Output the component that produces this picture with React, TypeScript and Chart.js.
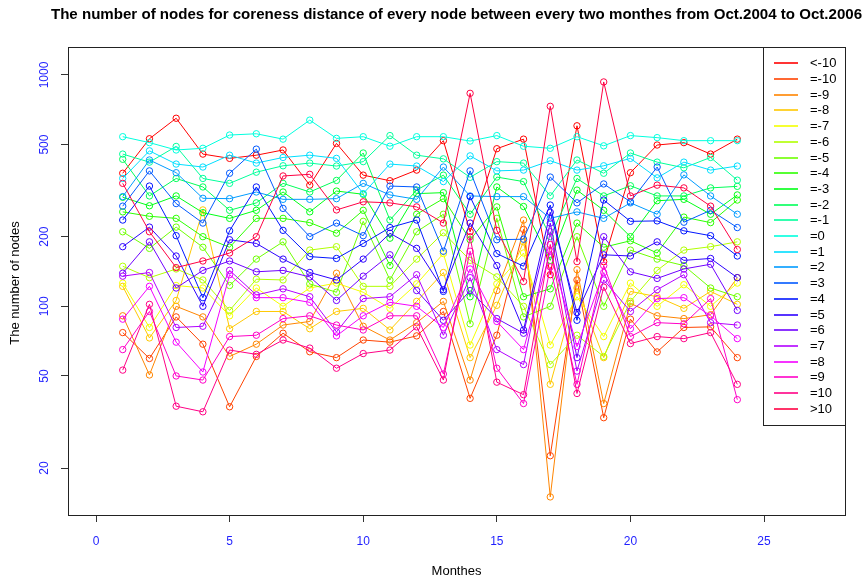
import React, { useEffect, useRef } from "react";
import { Chart, registerables } from "chart.js";

Chart.register(...registerables);

const FONT = '"Liberation Sans", Arial, Helvetica, sans-serif';

const chartTitle =
  "The number of nodes for coreness distance of every node between every two monthes from Oct.2004 to Oct.2006";
const xAxisTitle = "Monthes";
const yAxisTitle = "The number of nodes";

const months = [1, 2, 3, 4, 5, 6, 7, 8, 9, 10, 11, 12, 13, 14, 15, 16, 17, 18, 19, 20, 21, 22, 23, 24];
const xTicks = [0, 5, 10, 15, 20, 25];
const yTicks = [20, 50, 100, 200, 500, 1000];

const seriesLabels = [
  "<-10", "=-10", "=-9", "=-8", "=-7", "=-6", "=-5", "=-4", "=-3", "=-2", "=-1",
  "=0", "=1", "=2", "=3", "=4", "=5", "=6", "=7", "=8", "=9", "=10", ">10",
];

const nodesBelowMinus10 = [376, 530, 650, 455, 436, 450, 474, 334, 506, 369, 349, 388, 520, 210, 480, 528, 137, 603, 156, 378, 498, 510, 455, 528];
const nodesMinus10 = [77, 59.5, 90, 68.6, 36.8, 60.7, 76.5, 63.6, 60, 71.5, 70, 74.5, 95, 40, 75, 215, 22.6, 130, 33, 88, 63.5, 81, 81.5, 60];
const nodesMinus9 = [91, 50.5, 100, 90, 60.7, 68.6, 83, 86, 139, 82, 71.5, 85, 105, 48, 117, 236, 15, 144, 38, 103, 91, 88.5, 92, 133];
const nodesMinus8 = [122, 73, 106, 261, 80, 95, 95, 80, 95, 98, 79, 105, 140, 60, 101, 190, 46, 120, 60, 116, 110, 98, 116, 102];
const nodesMinus7 = [126, 81, 123, 120, 91, 120, 100, 120, 126, 115, 98, 125, 169, 68, 125, 170, 68, 110, 74, 126, 100, 124, 100, 126];
const nodesMinus6 = [149, 133, 145, 130, 96, 131, 130, 175, 181, 122, 122, 160, 208, 158, 134, 100, 56, 75, 60.7, 105, 143, 175, 181, 190];
const nodesMinus5 = [210, 178, 220, 180, 123, 160, 190, 125, 115, 233, 130, 210, 250, 84, 240, 90, 100, 200, 100, 175, 160, 150, 120, 110];
const nodesMinus4 = [256, 245, 240, 200, 180, 240, 240, 230, 207, 260, 150, 250, 292, 194, 269, 110, 119, 229, 180, 192, 170, 243, 230, 288];
const nodesMinus3 = [296, 272, 300, 254, 240, 260, 312, 256, 315, 305, 197, 307, 310, 110, 328, 270, 158, 318, 260, 200, 286, 290, 250, 303];
const nodesMinus2 = [432, 300, 357, 328, 260, 280, 340, 312, 350, 460, 236, 318, 369, 250, 362, 346, 200, 357, 300, 332, 300, 300, 325, 330];
const nodesMinus1 = [455, 420, 491, 357, 340, 380, 405, 416, 404, 422, 547, 450, 434, 361, 422, 416, 300, 429, 376, 460, 420, 397, 440, 351];
const nodesZero = [541, 510, 474, 482, 550, 557, 528, 638, 532, 541, 492, 541, 541, 518, 547, 492, 482, 541, 494, 547, 536, 520, 520, 520];
const nodesPlus1 = [357, 470, 412, 400, 450, 416, 440, 450, 436, 307, 412, 404, 346, 447, 385, 388, 426, 388, 405, 436, 359, 420, 388, 404];
const nodesPlus2 = [298, 429, 378, 293, 292, 312, 290, 290, 292, 340, 303, 290, 400, 300, 298, 298, 240, 256, 240, 280, 250, 370, 300, 250];
const nodesPlus3 = [271, 385, 278, 229, 376, 478, 265, 200, 229, 202, 331, 328, 173, 385, 194, 195, 362, 280, 338, 283, 400, 231, 260, 219];
const nodesPlus4 = [236, 331, 202, 109, 212, 328, 213, 164, 161, 187, 219, 236, 116, 298, 169, 149, 274, 87, 288, 233, 234, 212, 202, 165];
const nodesPlus5 = [181, 220, 165, 100, 194, 187, 160, 140, 130, 160, 207, 178, 118, 229, 150, 79, 255, 94, 167, 165, 190, 158, 161, 133];
const nodesPlus6 = [139, 190, 120, 143, 157, 141, 143, 134, 106, 135, 167, 117, 87, 117, 88.5, 76.5, 229, 60, 200, 141, 132, 145, 152, 96];
const nodesPlus7 = [135, 140, 81, 82, 143, 112, 119, 110, 77.5, 108, 110, 137, 75, 133, 65, 56, 210, 52.5, 130, 95, 118, 137, 85, 83];
const nodesPlus8 = [88, 122, 70, 52, 137, 109, 109, 104, 74.5, 91, 104, 100, 81, 145, 86, 65, 173, 67, 140, 80, 108, 109, 91, 72.5];
const nodesPlus9 = [65, 95, 50, 48, 74, 75, 88.5, 91, 83, 79, 91, 91, 51, 173, 54, 38, 148, 46, 150, 74, 85, 84, 108, 39.5];
const nodesPlus10 = [53, 102, 37, 35, 64.7, 62, 71.5, 66, 54, 62.5, 64.7, 81.5, 48, 200, 47, 41.5, 185, 42, 121, 69, 74, 72.5, 77, 46];
const nodesAbove10 = [340, 210, 147, 157, 170, 200, 366, 372, 261, 283, 280, 269, 229, 833, 213, 128, 732, 156, 933, 300, 334, 325, 271, 176];

const allSeries = [
  nodesBelowMinus10, nodesMinus10, nodesMinus9, nodesMinus8, nodesMinus7, nodesMinus6,
  nodesMinus5, nodesMinus4, nodesMinus3, nodesMinus2, nodesMinus1, nodesZero,
  nodesPlus1, nodesPlus2, nodesPlus3, nodesPlus4, nodesPlus5, nodesPlus6,
  nodesPlus7, nodesPlus8, nodesPlus9, nodesPlus10, nodesAbove10,
];

// R's rainbow(n): hue i/n, full saturation and value
function rainbow(n: number): string[] {
  const out: string[] = [];
  for (let i = 0; i < n; i++) {
    const h = (i / n) * 6;
    const k = Math.floor(h);
    const f = h - k;
    const q = 1 - f;
    let r = 0, g = 0, b = 0;
    switch (k % 6) {
      case 0: r = 1; g = f; b = 0; break;
      case 1: r = q; g = 1; b = 0; break;
      case 2: r = 0; g = 1; b = f; break;
      case 3: r = 0; g = q; b = 1; break;
      case 4: r = f; g = 0; b = 1; break;
      default: r = 1; g = 0; b = q; break;
    }
    const hx = (v: number) => Math.round(v * 255).toString(16).padStart(2, "0");
    out.push("#" + hx(r) + hx(g) + hx(b));
  }
  return out;
}

const decorPlugin = {
  id: "decor",
  afterDraw(chart: any) {
    const { ctx, chartArea } = chart;
    const { left, right, top, bottom } = chartArea;
    ctx.save();
    // plot box
    ctx.strokeStyle = "#222";
    ctx.lineWidth = 1;
    ctx.strokeRect(Math.round(left) + 0.5, Math.round(top) + 0.5, Math.round(right - left), Math.round(bottom - top));

    // title
    const cx = (left + right) / 2;
    let size = 14;
    ctx.font = `bold ${size}px ${FONT}`;
    const w = ctx.measureText(chartTitle).width;
    size = size * (812 / w);
    ctx.font = `bold ${size.toFixed(2)}px ${FONT}`;
    ctx.fillStyle = "#000";
    ctx.textAlign = "center";
    ctx.textBaseline = "middle";
    ctx.fillText(chartTitle, cx, 15);

    // axis titles
    ctx.font = `13px ${FONT}`;
    ctx.fillText(xAxisTitle, cx, 571);
    ctx.save();
    ctx.translate(15, (top + bottom) / 2 + 2);
    ctx.rotate(-Math.PI / 2);
    ctx.fillText(yAxisTitle, 0, 0);
    ctx.restore();

    // legend
    const lw = 82, lh = 378;
    const lx = right - lw;
    const ly = top;
    ctx.fillStyle = "#fff";
    ctx.fillRect(lx, ly, lw, lh);
    ctx.strokeStyle = "#222";
    ctx.strokeRect(Math.round(lx) + 0.5, Math.round(ly) + 0.5, lw, lh);
    ctx.font = `13px ${FONT}`;
    ctx.textAlign = "left";
    ctx.textBaseline = "middle";
    const step = (lh - 32.5) / (chart.data.datasets.length - 1);
    chart.data.datasets.forEach((ds: any, i: number) => {
      const y = Math.round(ly + 16.3 + i * step);
      ctx.strokeStyle = ds.borderColor;
      ctx.lineWidth = 1.6;
      ctx.beginPath();
      ctx.moveTo(lx + 11, y);
      ctx.lineTo(lx + 35, y);
      ctx.stroke();
      ctx.fillStyle = "#000";
      ctx.fillText(ds.label, lx + 47, y + 0.5);
    });
    ctx.restore();
  },
};

export default function App() {
  const ref = useRef<HTMLCanvasElement | null>(null);

  useEffect(() => {
    if (!ref.current) return;
    const colors = rainbow(allSeries.length);
    const datasets = allSeries.map((vals, i) => ({
      label: seriesLabels[i],
      data: months.map((m, j) => ({ x: m, y: vals[j] })),
      borderColor: colors[i],
      backgroundColor: "rgba(0,0,0,0)",
      pointBorderColor: colors[i],
      pointBackgroundColor: "rgba(0,0,0,0)",
      pointRadius: 3.2,
      pointBorderWidth: 1,
      borderWidth: 1,
      tension: 0,
      fill: false,
      order: allSeries.length - 1 - i,
    }));

    const chart = new Chart(ref.current, {
      type: "line",
      data: { datasets },
      options: {
        animation: false,
        responsive: false,
        maintainAspectRatio: false,
        layout: { padding: { top: 47, right: 22, left: 0, bottom: 0 } },
        plugins: {
          legend: { display: false },
          title: { display: false },
          tooltip: { enabled: false },
        },
        scales: {
          x: {
            type: "linear",
            min: -1.048,
            max: 28.03,
            afterBuildTicks: (s: any) => {
              s.ticks = xTicks.map((v) => ({ value: v }));
            },
            afterFit: (s: any) => {
              s.height = 67;
            },
            border: { display: false },
            grid: { drawOnChartArea: false, drawTicks: true, tickLength: 7, color: "#333" },
            ticks: {
              color: "#1f1fff",
              font: { family: FONT, size: 12 },
              padding: 12,
              maxRotation: 0,
              autoSkip: false,
              callback: (v: any) => String(v),
            },
          },
          y: {
            type: "logarithmic",
            min: 12.53,
            max: 1321,
            afterBuildTicks: (s: any) => {
              s.ticks = yTicks.map((v) => ({ value: v }));
            },
            afterFit: (s: any) => {
              s.width = 68;
            },
            border: { display: false },
            grid: { drawOnChartArea: false, drawTicks: true, tickLength: 7, color: "#333" },
            ticks: {
              color: "#1f1fff",
              font: { family: FONT, size: 12 },
              padding: 3,
              minRotation: 90,
              maxRotation: 90,
              crossAlign: "center",
              autoSkip: false,
              callback: (v: any) => String(v),
            },
          },
        },
      },
      plugins: [decorPlugin],
    } as any);

    return () => chart.destroy();
  }, []);

  return (
    <div style={{ position: "absolute", left: 0, top: 0, width: 867, height: 582, background: "#fff" }}>
      <canvas ref={ref} width={867} height={582} style={{ display: "block" }} />
    </div>
  );
}
